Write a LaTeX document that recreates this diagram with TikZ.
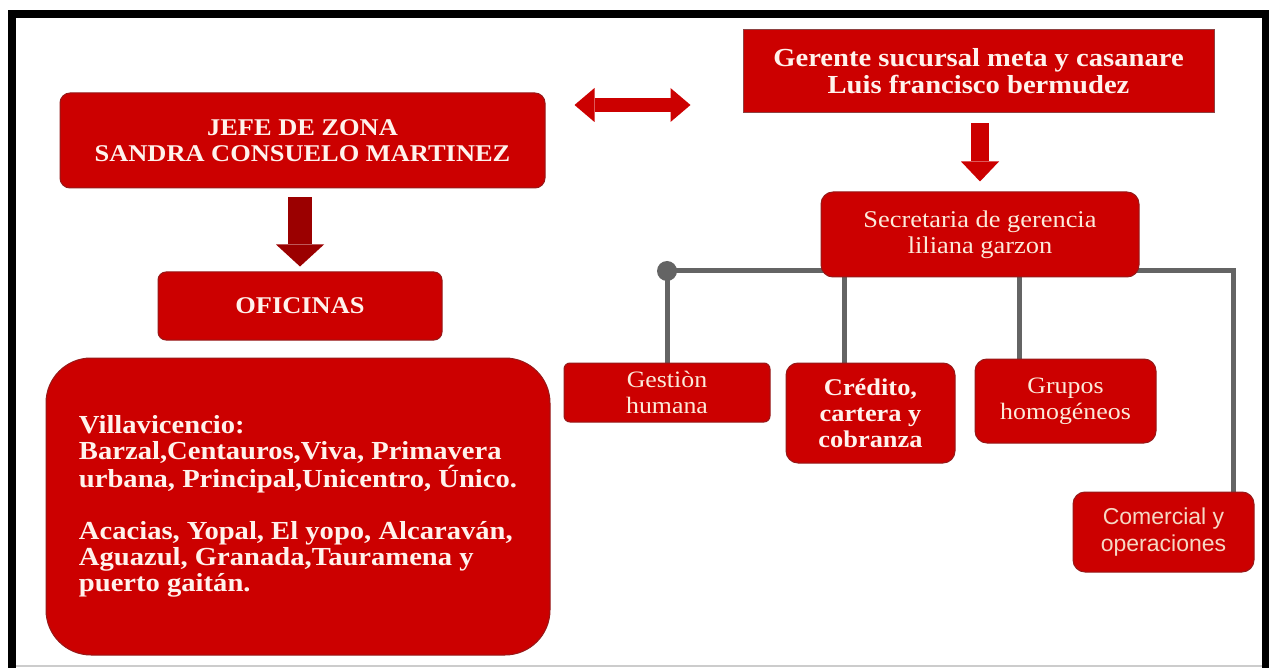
\documentclass[tikz,border=0pt]{standalone}
\usepackage{fontspec}
\setmainfont{Liberation Serif}
\newfontfamily\serf{Liberation Serif}[FakeStretch=1.1]
\newfontfamily\sanf{Liberation Sans}
\usetikzlibrary{arrows.meta,backgrounds}

\definecolor{boxred}{RGB}{204,0,0}
\definecolor{boxedge}{RGB}{150,25,25}
\definecolor{darkred}{RGB}{155,0,0}
\definecolor{busgray}{RGB}{100,100,100}
\definecolor{cream}{RGB}{252,234,218}
\definecolor{pale}{RGB}{255,242,236}
\definecolor{peach}{RGB}{246,216,196}

\tikzset{
	redbox/.style={fill=boxred, draw=boxedge, line width=1pt, rounded corners=10pt, inner sep=0pt, align=center, text=pale},
	boldtxt/.style={font=\serf\bfseries\fontsize{24}{26}\selectfont},
	plaintxt/.style={font=\serf\fontsize{24}{26}\selectfont, text=cream},
	bus/.style={draw=busgray, line width=5pt},
	blockarrow/.style={draw=#1, line width=18pt},
}

\begin{document}
\begin{tikzpicture}[x=1pt,y=-1pt]
\useasboundingbox (0,0) rectangle (1269,668);

	\node[redbox, boldtxt, rounded corners=0pt, draw=boxedge!60!gray, minimum width=471pt, minimum height=83pt, font=\serf\bfseries\fontsize{26}{27}\selectfont] (gerente) at (978.5,71.5) {Gerente sucursal meta y casanare\\Luis francisco bermudez};
	\node[redbox, boldtxt, minimum width=485pt, minimum height=95pt] (jefe) at (302.5,140.5) {JEFE DE ZONA\\SANDRA CONSUELO MARTINEZ};
	\node[redbox, boldtxt, rounded corners=8pt, minimum width=284pt, minimum height=68pt] (oficinas) at (300,306) {OFICINAS};
	\node[redbox, boldtxt, align=left, rounded corners=45pt, minimum width=504pt, minimum height=297pt, font=\serf\bfseries\fontsize{26}{26}\selectfont] (sedes) at (298,506.5) {Villavicencio:\\Barzal,Centauros,Viva, Primavera\\urbana, Principal,Unicentro, Único.\\[26pt]Acacias, Yopal, El yopo, Alcaraván,\\Aguazul, Granada,Tauramena y\\puerto gaitán.};

	\node[redbox, plaintxt, rounded corners=12pt, minimum width=318pt, minimum height=85pt] (secre) at (980,234.5) {Secretaria de gerencia\\liliana garzon};
	\node[redbox, plaintxt, rounded corners=6pt, minimum width=206pt, minimum height=59pt, font=\serf\fontsize{23.5}{26}\selectfont] (gestion) at (667,392.5) {Gestiòn\\humana};
	\node[redbox, boldtxt, rounded corners=12pt, minimum width=169pt, minimum height=100pt] (credito) at (870.5,413) {Crédito,\\cartera y\\cobranza};
	\node[redbox, plaintxt, rounded corners=12pt, minimum width=181pt, minimum height=84pt, font=\serf\fontsize{23.5}{26}\selectfont] (grupos) at (1065.5,401) {Grupos\\homogéneos};
	\node[redbox, rounded corners=12pt, minimum width=181pt, minimum height=80pt, text=peach, font=\sanf\fontsize{23}{27}\selectfont] (comercial) at (1163.5,532) {Comercial y\\operaciones};

	\coordinate (dbl) at (0,105);
	\draw[blockarrow=boxred, line width=14pt, {Triangle[length=20pt,width=34pt,line width=0pt]}-{Triangle[length=20pt,width=34pt,line width=0pt]}, shorten <=29pt, shorten >=52pt] (jefe.east |- dbl) -- (gerente.west |- dbl);
	\draw[blockarrow=boxred, -{Triangle[length=20pt,width=38pt,line width=0pt]}, shorten <=10pt, shorten >=10pt] (secre.north |- gerente.south) -- (secre.north);
	\draw[blockarrow=darkred, line width=24pt, -{Triangle[length=22pt,width=48pt,line width=0pt]}, shorten <=9pt, shorten >=5pt] (oficinas.north |- jefe.south) -- (oficinas.north);

\begin{scope}[on background layer]
	\fill (8,10) rectangle (1269,668);
	\fill[white] (16,18) rectangle (1262,668);
	\draw[gray!40, line width=1.5pt] (16,666) -- (1262,666);

	\coordinate (busL) at (667,271);
	\coordinate (busR) at (1233,271);
	\coordinate (cbus) at ([xshift=-26.5pt]credito.north);
	\coordinate (gbus) at ([xshift=-46.5pt]grupos.north);
	\draw[bus] (busL) -- (busR) -- (busR |- comercial.north);
	\draw[bus] (busL) -- (gestion.north);
	\draw[bus] (cbus) -- (cbus |- busL);
	\draw[bus] (gbus) -- (gbus |- busL);
	\fill[busgray] (busL) circle (10pt);
\end{scope}
\end{tikzpicture}
\end{document}
